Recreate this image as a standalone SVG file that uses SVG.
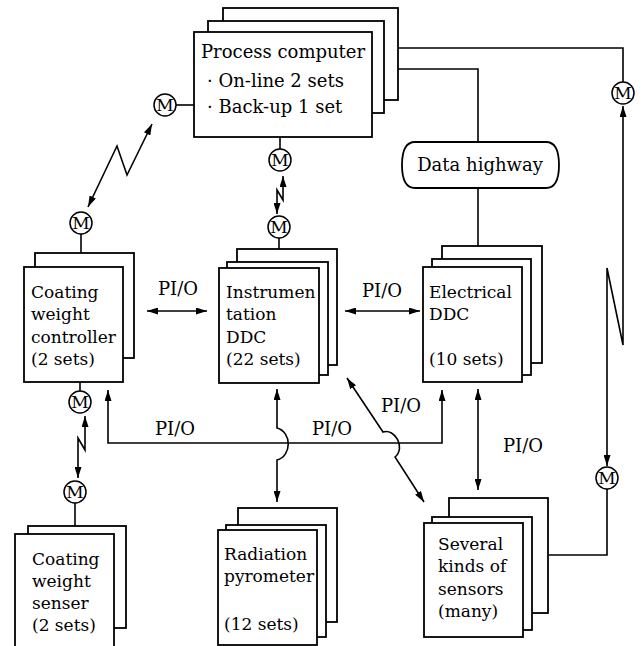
<svg xmlns="http://www.w3.org/2000/svg" width="644" height="646" viewBox="0 0 644 646">
<style>
  .box { fill: #fff; stroke: #000; stroke-width: 1.8; }
  .ln { fill: none; stroke: #000; stroke-width: 1.6; }
  .arr { fill: none; stroke: #000; stroke-width: 1.6; marker-start: url(#ah); marker-end: url(#ah); }
  .t { font-family: "DejaVu Serif", serif; font-size: 17px; fill: #000; }
  .pc { font-family: "DejaVu Serif", serif; font-size: 18px; fill: #000; }
  .lbl { font-family: "DejaVu Serif", serif; font-size: 18px; fill: #000; text-anchor: middle; }
  .mc { fill: #fff; stroke: #000; stroke-width: 1.5; }
  .mt { font-family: "DejaVu Serif", serif; font-size: 17px; fill: #000; text-anchor: middle; }
</style>
<defs>
  <marker id="ah" markerUnits="userSpaceOnUse" markerWidth="11" markerHeight="7" refX="11" refY="3.5" orient="auto-start-reverse">
    <path d="M0,0 L11,3.5 L0,7 Z" fill="#000"/>
  </marker>
  <g id="m">
    <circle class="mc" cx="0" cy="0" r="11"/>
    <text class="mt" x="0" y="6">M</text>
  </g>
</defs>
<rect width="644" height="646" fill="#fff"/>

<g id="connectors">
  <path class="ln" d="M398,48 H623 V82"/>
  <path class="ln" d="M398,69 H478 V142"/>
  <path class="ln" d="M478,188 V246"/>
  <path class="ln" d="M176,105 H194"/>
  <path class="ln" d="M81,234 V253"/>
  <path class="ln" d="M280,137 V149"/>
  <path class="ln" d="M279,238 V249"/>
  <path class="ln" d="M80,382 V391"/>
  <path class="ln" d="M75,503 V526"/>
  <path class="ln" d="M549,555 H607 V489"/>
  <path class="arr" d="M88,207 L117,146 L127,175 L152,124"/>
  <path class="arr" d="M283,176 V200 L277,190 V214"/>
  <path class="arr" d="M85,416 V450 L78,438 V478"/>
  <path class="arr" d="M607,466 V268 L623,345 V106"/>
  <path class="arr" d="M147,311 H207"/>
  <path class="arr" d="M345,311 H420"/>
  <path class="arr" d="M108,390 V443 H442 V390"/>
  <path class="arr" d="M277,389 V428 C292,432 292,456 277,460 V502"/>
  <path class="arr" d="M347,378 L383,432 C395,428 406,448 395,457 L424,502"/>
  <path class="arr" d="M478,389 V490"/>
  <text class="lbl" x="178" y="295">PI/O</text>
  <text class="lbl" x="382" y="297">PI/O</text>
  <text class="lbl" x="175" y="435">PI/O</text>
  <text class="lbl" x="332" y="435">PI/O</text>
  <text class="lbl" x="401" y="412">PI/O</text>
  <text class="lbl" x="523" y="452">PI/O</text>
</g>

<g id="process-computer">
  <rect class="box" x="223" y="8" width="175" height="92"/>
  <rect class="box" x="208" y="21" width="176" height="92"/>
  <rect class="box" x="194" y="32" width="178" height="105"/>
  <text class="pc" x="201" y="58">Process computer</text>
  <text class="pc" x="207" y="87">· On-line 2 sets</text>
  <text class="pc" x="207" y="113">· Back-up 1 set</text>
</g>

<g id="data-highway">
  <path class="box" d="M415,142 H546 Q559,142 559,165 Q559,188 546,188 H415 Q402,188 402,165 Q402,142 415,142 Z"/>
  <text class="lbl" x="480" y="171">Data highway</text>
</g>

<g id="m-pc-left"><use href="#m" x="165" y="105"/></g>
<g id="m-cwc-top"><use href="#m" x="81" y="223"/></g>
<g id="m-pc-bottom"><use href="#m" x="280" y="160"/></g>
<g id="m-instr-top"><use href="#m" x="279" y="227"/></g>
<g id="m-cwc-bottom"><use href="#m" x="80" y="402"/></g>
<g id="m-cws-top"><use href="#m" x="75" y="492"/></g>
<g id="m-right-top"><use href="#m" x="623" y="93"/></g>
<g id="m-right-bottom"><use href="#m" x="607" y="478"/></g>

<g id="coating-weight-controller">
  <rect class="box" x="35" y="253" width="99" height="105"/>
  <rect class="box" x="24" y="267" width="99" height="115"/>
  <text class="t" x="31" y="298">Coating</text>
  <text class="t" x="31" y="320">weight</text>
  <text class="t" x="31" y="343">controller</text>
  <text class="t" x="31" y="365">(2 sets)</text>
</g>

<g id="instrumentation-ddc">
  <rect class="box" x="237" y="249" width="100" height="116"/>
  <rect class="box" x="227" y="262" width="101" height="113"/>
  <rect class="box" x="219" y="268" width="100" height="115"/>
  <text class="t" x="226" y="298">Instrumen</text>
  <text class="t" x="226" y="320">tation</text>
  <text class="t" x="226" y="343">DDC</text>
  <text class="t" x="226" y="365">(22 sets)</text>
</g>

<g id="electrical-ddc">
  <rect class="box" x="442" y="246" width="100" height="117"/>
  <rect class="box" x="432" y="259" width="99" height="116"/>
  <rect class="box" x="423" y="267" width="99" height="115"/>
  <text class="t" x="429" y="298">Electrical</text>
  <text class="t" x="429" y="320">DDC</text>
  <text class="t" x="429" y="365">(10 sets)</text>
</g>

<g id="coating-weight-senser">
  <rect class="box" x="28" y="526" width="98" height="102"/>
  <rect class="box" x="15" y="534" width="99" height="120"/>
  <text class="t" x="32" y="565">Coating</text>
  <text class="t" x="32" y="587">weight</text>
  <text class="t" x="32" y="609">senser</text>
  <text class="t" x="32" y="631">(2 sets)</text>
</g>

<g id="radiation-pyrometer">
  <rect class="box" x="238" y="508" width="99" height="114"/>
  <rect class="box" x="226" y="525" width="100" height="112"/>
  <rect class="box" x="218" y="530" width="99" height="115"/>
  <text class="t" x="224" y="560">Radiation</text>
  <text class="t" x="224" y="582">pyrometer</text>
  <text class="t" x="224" y="630">(12 sets)</text>
</g>

<g id="sensors">
  <rect class="box" x="449" y="498" width="99" height="115"/>
  <rect class="box" x="432" y="517" width="100" height="113"/>
  <rect class="box" x="424" y="523" width="99" height="114"/>
  <text class="t" x="438" y="550">Several</text>
  <text class="t" x="438" y="572">kinds of</text>
  <text class="t" x="438" y="595">sensors</text>
  <text class="t" x="438" y="617">(many)</text>
</g>
</svg>
